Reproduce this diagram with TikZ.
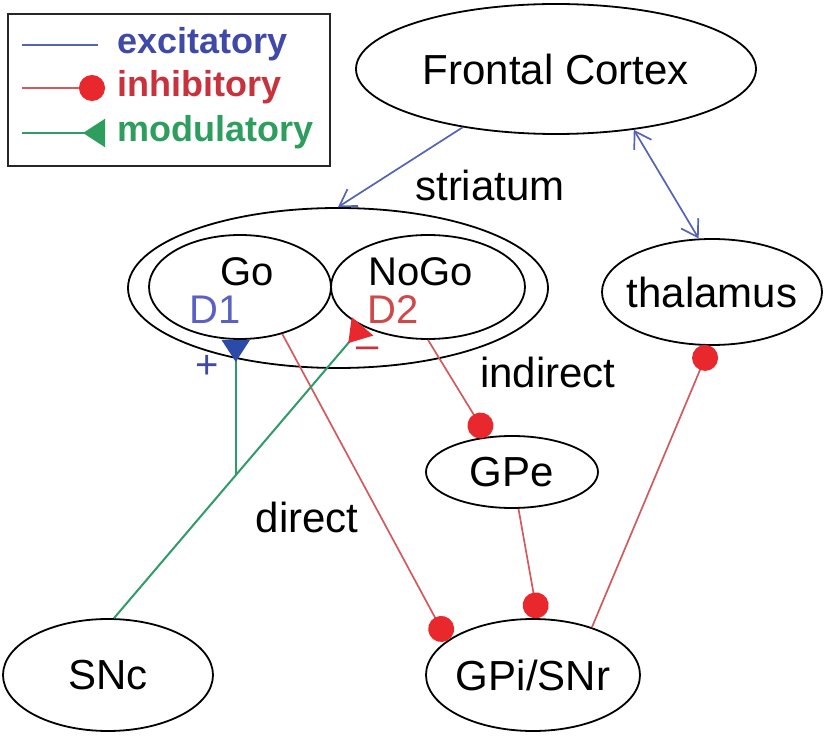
\documentclass[tikz,border=0pt]{standalone}
\usepackage{fontspec}
\setmainfont{Liberation Sans}
\usetikzlibrary{shapes.geometric,arrows.meta}
\definecolor{exct}{HTML}{3F49A8}
\definecolor{excl}{HTML}{5563B5}
\definecolor{inht}{HTML}{C8323C}
\definecolor{inhl}{HTML}{D25A5E}
\definecolor{inhd}{HTML}{E8282D}
\definecolor{modt}{HTML}{2E9E5E}
\definecolor{modl}{HTML}{2F9A6A}
\definecolor{dblue}{HTML}{2B4BA8}
\definecolor{dlblue}{HTML}{5A60C4}
\definecolor{dlred}{HTML}{D04848}
\begin{document}
\begin{tikzpicture}[x=1pt,y=1pt,
  ell/.style={ellipse,draw=black,line width=1.8pt,inner sep=0pt},
  lbl/.style={font=\fontsize{42}{48}\selectfont},
  sub/.style={font=\fontsize{40}{46}\selectfont},
  legt/.style={font=\fontsize{36}{40}\selectfont\bfseries,anchor=west,inner sep=0pt},
  excline/.style={draw=excl,line width=1.7pt},
  excarr/.style={excline,-{Straight Barb[length=16pt,width=20pt,line width=1.7pt]}},
  excboth/.style={excline,{Straight Barb[length=16pt,width=20pt,line width=1.7pt]}-{Straight Barb[length=16pt,width=20pt,line width=1.7pt]}},
  inhline/.style={draw=inhl,line width=1.7pt,-{Circle[length=26pt,color=inhd,fill=inhd]}},
  modline/.style={draw=modl,line width=2pt},
  modarr/.style={modline,-{Triangle[reversed,length=22pt,width=28pt,color=#1,fill=#1]}}
]
\useasboundingbox (0,0) rectangle (827,737);

% legend
\node[draw=black!85,line width=2pt,minimum width=322,minimum height=152,inner sep=0pt] (leg) at (169,647) {};
\coordinate (e1) at (22,692); \coordinate (e2) at (98,692);
\coordinate (i1) at (22,649); \coordinate (i2) at (105,649);
\coordinate (m1) at (22,604); \coordinate (m2) at (105,604);
\draw[excline] (e1) -- (e2);
\draw[inhline] (i1) -- (i2);
\draw[modarr=modt] (m1) -- (m2);
\node[legt,text=exct] (lexc) at (117,693) {excitatory};
\node[legt,text=inht] (linh) at (117,650) {inhibitory};
\node[legt,text=modt] (lmod) at (117,605) {modulatory};

% nodes
\node[ell,minimum width=400,minimum height=130,label={[lbl]center:Frontal Cortex}] (fc) at (556,668) {};
\node[ell,minimum width=420,minimum height=160] (str) at (338,449) {};
\node[ell,minimum width=182,minimum height=104] (go) at (240,450) {};
\node[ell,minimum width=194,minimum height=104] (nogo) at (428,450) {};
\node[ell,minimum width=220,minimum height=106,label={[lbl]center:thalamus}] (th) at (712,445) {};
\node[ell,minimum width=172,minimum height=72,label={[lbl]center:GPe}] (gpe) at (512,265) {};
\node[ell,minimum width=214,minimum height=112,label={[lbl]center:GPi/SNr}] (gpi) at (533,62) {};
\node[ell,minimum width=210,minimum height=112,label={[lbl]center:SNc}] (snc) at (108,62) {};

% texts
\node[sub] (tgo) at (247,465) {Go};
\node[sub] (tnogo) at (421,465) {NoGo};
\node[sub,text=dlblue] (td1) at (215,427) {D1};
\node[sub,text=dlred] (td2) at (393,427) {D2};
\node[sub,text=exct] (tplus) at (207,370) {+};
\node[sub,text=inht] (tminus) at (368,384) {\textendash};
\node[lbl] (tstr) at (490,552) {striatum};
\node[lbl] (tind) at (548,365) {indirect};
\node[lbl] (tdir) at (307,220) {direct};

% excitatory
\draw[excarr] (fc.212) -- (str.90);
\draw[excboth] (fc.322) -- (th.104);

% inhibitory
\draw[inhline] (go.312) -- (gpi.158);
\draw[inhline] (nogo.270) -- (gpe.125);
\draw[inhline] (gpe.280) -- (gpi.85);
\draw[inhline] (gpi.39) -- (th.268);

% modulatory
\draw[modarr=inhd] (snc.84) -- coordinate[pos=0.49] (br) (nogo.211);
\draw[modarr=dblue] (br) -- (br |- go.south);
\end{tikzpicture}
\end{document}
